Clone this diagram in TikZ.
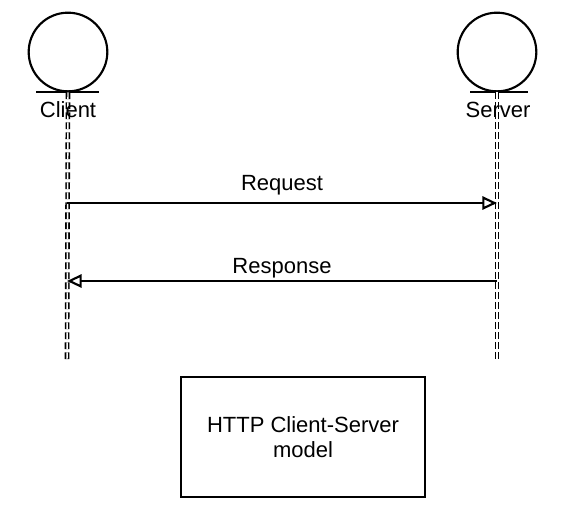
\documentclass[tikz,border=0pt]{standalone}
\usepackage{fontspec}
\setmainfont{Liberation Sans}
\usetikzlibrary{arrows.meta, positioning}

\begin{document}
\begin{tikzpicture}[x=0.75pt, y=-0.75pt, line width=1.6pt,
  actor/.style={circle, draw, minimum size=59pt, inner sep=0pt},
  lifeline/.style={double, double distance=1.1pt, line width=1.2pt, dash pattern=on 5pt off 2.5pt},
  msg/.style={-{Triangle[open, length=11pt, width=10pt, line width=1.6pt]}, line width=1.6pt},
  lbl/.style={font=\fontsize{16.5}{19}\selectfont}]
\useasboundingbox (0,0) rectangle (588,526);
% actors
\node[actor] (client) at (68,52) {};
\node[actor] (server) at (497,52) {};
\draw ([xshift=-24pt]client.south) -- ([xshift=23pt]client.south);
\draw ([xshift=-20pt]server.south) -- ([xshift=23pt]server.south);
% lifelines
\coordinate (clientend) at (67,362);
\coordinate (serverend) at (497,362);
\draw[lifeline] (client.south) -- (clientend);
\draw[lifeline] (server.south) -- (serverend);
\node[lbl] (clientlbl) at (68,110) {Client};
\node[lbl] (serverlbl) at (498,110) {Server};
% messages
\coordinate (creq) at (67,203);
\coordinate (sreq) at (497,203);
\coordinate (cres) at (67,281);
\coordinate (sres) at (497,281);
\draw[msg] (creq) -- (sreq) node[lbl, midway, above=1.75pt] {Request};
\draw[msg] (sres) -- (cres) node[lbl, midway, above=-2pt] {Response};
% caption box
\node[draw, lbl, align=center, minimum width=183pt, minimum height=90pt] (caption) at (303,437) {HTTP Client-Server\\model};
\end{tikzpicture}
\end{document}
